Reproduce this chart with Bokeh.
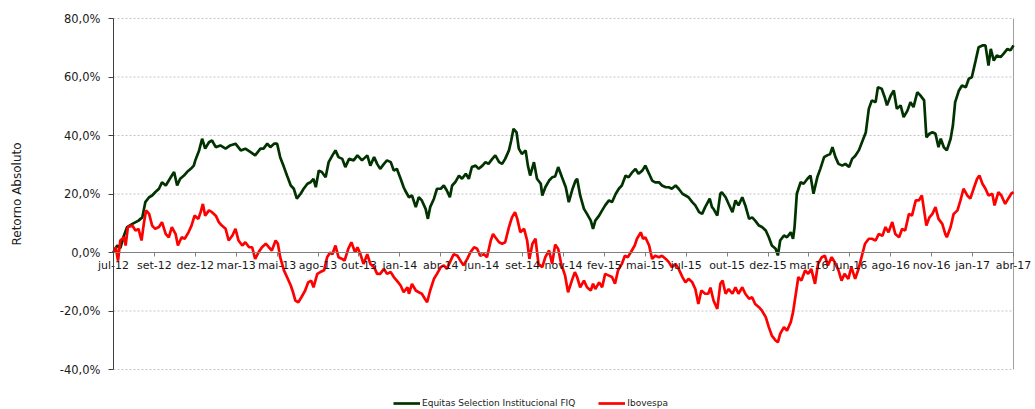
from bokeh.plotting import figure
from bokeh.models import Range1d, FixedTicker, CustomJSTickFormatter, Legend, LegendItem
from bokeh.embed import file_html
from bokeh.resources import INLINE

# ---- data ----
tick_labels = ["jul-12", "set-12", "dez-12", "mar-13", "mai-13", "ago-13", "out-13", "jan-14",
               "abr-14", "jun-14", "set-14", "nov-14", "fev-15", "mai-15", "jul-15", "out-15",
               "dez-15", "mar-16", "jun-16", "ago-16", "nov-16", "jan-17", "abr-17"]
tick_step = 54  # trading days between labels
last_day = tick_step * (len(tick_labels) - 1)

eq_day = [0,5,9,13,18,25,33,38,42,47,51,55,60,64,69,73,77,80,84,88,93,97,102,106,108,113,117,121,126,130,
          135,141,148,154,161,168,174,181,187,194,198,203,207,212,216,220,225,229,234,238,242,247,251,256,260,
          264,267,271,275,280,284,289,293,297,302,306,311,317,322,328,335,339,344,348,352,357,361,366,370,374,
          379,383,385,390,394,399,403,407,412,415,418,423,427,432,436,440,444,447,451,456,460,465,469,473,478,
          482,487,491,495,500,504,509,513,517,522,525,528,532,535,539,544,547,550,555,559,564,566,570,575,579,
          583,587,592,597,601,606,610,612,616,621,625,630,633,636,641,645,649,654,658,663,667,671,676,680,685,
          689,693,698,702,707,711,715,720,724,729,733,737,742,746,751,755,759,764,768,773,777,781,787,790,792,
          797,801,803,808,812,817,821,825,830,834,839,843,847,852,856,861,865,869,874,877,880,885,889,894,897,
          899,902,907,911,916,920,924,929,933,938,942,946,949,953,957,962,966,971,975,979,984,988,993,997,1001,
          1006,1009,1014,1018,1021,1026,1030,1034,1039,1043,1048,1052,1056,1061,1065,1070,1073,1077,1081,1085,
          1089,1092,1096,1100,1105,1108,1111,1116,1120,1125,1129,1133,1138,1142,1147,1151,1155,1158,1162,1166,
          1171,1175,1180,1184,1188]
eq_ret = [0.0,2.4,1.5,5.2,8.7,9.8,10.9,12.0,17.2,18.9,19.5,20.6,21.8,24.0,22.9,24.6,26.3,27.5,22.9,25.2,
          26.3,27.5,28.6,29.7,31.5,34.9,38.9,35.5,37.7,38.3,36.0,36.6,35.5,36.6,37.2,34.9,35.5,34.3,33.2,35.5,
          35.5,37.2,36.0,37.2,37.2,32.6,29.2,26.3,22.9,21.8,18.4,20.1,21.8,23.5,24.0,25.2,22.3,28.0,27.5,25.7,
          30.9,33.2,34.9,32.6,32.0,29.2,32.0,31.5,33.2,31.5,33.2,29.7,32.6,30.3,28.6,30.3,31.5,30.9,28.0,28.6,
          25.2,22.3,21.2,18.9,19.5,15.5,18.9,17.8,14.9,11.5,15.5,18.4,21.8,21.8,22.9,21.2,18.9,22.9,24.0,26.3,
          25.2,26.9,25.2,29.2,29.7,28.6,29.7,30.9,30.3,32.0,33.2,30.9,30.3,32.0,34.9,38.3,42.3,41.1,35.5,33.7,
          34.9,29.7,26.3,30.9,25.2,23.5,19.5,22.3,24.6,25.7,26.0,29.2,25.7,22.3,17.2,21.8,24.6,25.2,19.5,14.9,
          13.2,10.9,8.1,10.9,12.6,14.4,16.1,17.8,17.2,20.1,21.8,22.9,26.3,25.7,27.5,28.6,26.9,28.0,29.7,26.9,
          24.6,24.0,24.0,22.9,22.3,22.3,21.8,22.9,21.8,20.1,19.5,18.9,17.2,16.1,13.8,13.2,15.5,18.4,15.5,14.9,
          12.6,20.1,20.6,18.9,16.6,13.8,17.8,16.1,18.9,16.1,11.5,12.0,10.9,9.2,8.7,7.5,5.2,2.4,1.3,-1.0,
          4.1,5.8,5.2,6.9,4.7,8.7,20.1,24.0,23.5,25.2,26.3,20.1,25.7,28.6,32.6,33.2,33.7,36.0,32.6,30.3,
          29.7,30.3,29.2,32.0,33.0,35.0,37.7,41.0,49.1,52.0,51.4,56.5,56.0,53.1,50.3,53.7,55.4,49.1,50.3,46.3,
          48.5,51.4,49.7,54.8,53.7,52.0,39.4,40.6,41.1,40.6,36.0,38.9,36.0,34.9,38.9,43.4,51.4,55.4,57.1,56.5,
          59.4,59.9,65.6,70.2,70.8,70.8,63.9,69.6,65.6,67.4,66.8,68.0,69.6,69.1,70.8]

ib_day = [0,3,6,9,14,16,19,25,29,33,37,40,43,47,51,55,60,64,69,73,77,82,85,90,94,99,103,107,112,115,
          118,121,126,130,135,139,143,148,152,157,161,165,170,174,179,183,187,192,196,201,205,209,214,217,220,
          225,229,234,237,240,244,248,253,257,261,264,269,273,278,282,286,289,293,297,302,305,310,314,319,322,
          326,330,335,339,344,348,352,357,361,366,370,374,379,383,388,390,394,399,403,407,411,414,418,423,427,
          432,436,440,445,449,454,458,462,467,471,476,480,484,489,493,498,501,504,509,513,517,522,526,530,533,
          537,542,546,549,553,557,561,566,570,575,579,583,587,591,596,600,605,609,612,616,621,625,630,633,636,
          641,645,649,654,658,662,666,671,675,679,684,688,691,696,699,702,707,711,715,720,724,729,733,737,742,
          746,751,755,759,764,768,772,776,781,785,788,792,797,801,804,808,812,817,821,825,830,834,839,843,847,
          852,856,861,865,869,874,877,880,885,889,894,897,900,904,908,913,917,921,926,930,935,939,943,948,952,
          957,961,965,970,974,979,983,987,992,997,1001,1006,1010,1015,1019,1023,1028,1032,1037,1041,1045,1050,
          1054,1059,1063,1067,1070,1073,1077,1081,1085,1089,1094,1098,1100,1105,1109,1114,1118,1122,1127,1131,
          1136,1140,1143,1147,1151,1155,1160,1163,1168,1172,1177,1181,1185,1188]
ib_ret = [0.0,1.8,-2.8,4.1,5.2,2.4,8.7,9.2,7.5,8.1,4.1,9.8,14.4,13.2,9.2,8.1,8.7,10.4,6.3,5.2,
          8.7,6.3,2.4,5.2,4.7,6.9,9.2,12.6,11.5,13.8,16.6,12.6,14.4,13.8,12.6,10.4,9.2,8.1,4.1,5.8,
          8.1,4.1,2.4,3.5,1.8,1.8,-2.2,0.3,1.8,3.0,1.8,0.7,4.1,3.0,-1.6,-6.1,-8.4,-11.3,-13.6,-16.4,
          -17.0,-15.3,-13.0,-10.2,-9.6,-11.9,-7.3,-6.7,-6.1,-1.6,0.0,-0.6,2.4,-1.6,-2.2,-2.8,1.3,3.5,0.0,1.8,
          -0.6,-3.9,-0.6,-3.9,-5.0,-7.3,-7.3,-5.6,-7.3,-6.7,-8.4,-9.6,-11.3,-13.6,-11.9,-14.1,-10.7,-13.0,-13.6,-14.1,
          -15.8,-17.0,-13.0,-9.0,-7.3,-5.0,-4.4,-5.6,-2.8,-0.6,-1.1,-2.8,-4.4,-2.2,0.0,1.8,1.3,-1.1,-0.6,-1.6,
          4.1,6.3,5.2,3.5,3.0,3.5,8.7,12.0,13.8,11.5,6.9,8.1,4.1,-2.2,3.0,4.7,-3.9,-5.0,-1.6,0.7,
          -3.9,2.7,1.2,-3.9,-7.8,-13.6,-9.6,-6.7,-8.4,-11.9,-9.6,-11.9,-13.0,-10.7,-12.5,-10.2,-11.9,-7.3,-7.9,-8.4,
          -10.7,-6.1,-3.9,-1.1,-1.6,0.6,2.4,4.7,6.9,4.7,5.2,2.4,-2.2,-1.1,-1.6,-1.1,-2.2,-3.3,-5.0,-3.9,
          -5.6,-8.4,-10.2,-9.0,-10.2,-12.5,-17.6,-13.0,-14.1,-14.1,-12.0,-16.4,-19.3,-10.7,-9.6,-14.1,-12.5,-14.1,-11.9,-14.1,
          -11.9,-14.1,-15.8,-15.3,-17.6,-18.7,-19.9,-22.1,-25.5,-28.4,-30.1,-30.7,-27.8,-25.5,-26.7,-23.8,-20.4,-15.3,-8.4,-9.6,
          -6.1,-7.3,-5.6,-10.7,-3.9,-1.6,-1.1,-4.4,-1.6,-3.3,-6.1,-9.6,-7.3,-9.0,-5.0,-9.0,-6.0,-2.0,3.0,4.7,
          4.7,4.1,6.3,5.7,8.7,6.9,10.4,6.3,5.2,8.1,7.5,13.2,12.6,17.8,17.8,19.5,14.4,9.2,12.0,13.2,
          15.5,11.5,9.8,6.3,5.2,8.7,13.2,14.4,17.8,21.8,19.5,18.4,22.3,25.2,26.3,23.5,21.8,19.5,20.1,16.1,
          20.6,19.5,16.6,18.4,20.1,20.6]

y_ticks = [-40, -20, 0, 20, 40, 60, 80]

assert len(eq_day) == len(eq_ret), (len(eq_day), len(eq_ret))
assert len(ib_day) == len(ib_ret), (len(ib_day), len(ib_ret))

# ---- layout (pixels) ----
W, H = 1035, 409
PL, PR, PT, PB = 113, 1013, 18, 369   # plot-area box inside the canvas
FONT = "DejaVu Sans"

dx = last_day / (PR - PL)
dy = (y_ticks[-1] - y_ticks[0]) / (PB - PT)
x_range = Range1d(-PL * dx, last_day + (W - PR) * dx)
y_range = Range1d(y_ticks[0] - (H - PB) * dy, y_ticks[-1] + PT * dy)

p = figure(width=W, height=H, output_backend="svg", toolbar_location=None,
           x_range=x_range, y_range=y_range,
           min_border_left=0, min_border_right=0, min_border_top=0, min_border_bottom=0)
p.outline_line_color = None
p.background_fill_color = "white"
p.xgrid.visible = False
p.ygrid.visible = False

# dotted horizontal gridlines across the plot area
n = len(y_ticks)
p.segment(x0=[0] * n, x1=[last_day] * n, y0=y_ticks, y1=y_ticks,
          line_color="#c4c4c4", line_width=1, line_dash="2 2")
# right border of plot area
p.segment(x0=[last_day], x1=[last_day], y0=[y_ticks[0]], y1=[y_ticks[-1]],
          line_color="#a0a0a0", line_width=1)

# y axis at day 0
ya = p.yaxis[0]
ya.fixed_location = 0
ya.bounds = (y_ticks[0], y_ticks[-1])
ya.ticker = FixedTicker(ticks=y_ticks)
ya.formatter = CustomJSTickFormatter(code="return tick.toFixed(1).replace('.', ',') + '%';")
ya.axis_line_color = "#404040"
ya.major_tick_line_color = "#404040"
ya.major_tick_out = 5
ya.major_tick_in = 0
ya.minor_tick_line_color = None
ya.major_label_standoff = 8
ya.major_label_text_font = FONT
ya.major_label_text_font_size = "11.5px"
ya.major_label_text_color = "#1a1a1a"
ya.axis_label = "Retorno Absoluto"
ya.axis_label_text_font = FONT
ya.axis_label_text_font_size = "12px"
ya.axis_label_text_font_style = "normal"
ya.axis_label_text_color = "#1a1a1a"
ya.axis_label_standoff = 33

# x axis at 0 %
xa = p.xaxis[0]
xa.fixed_location = 0
xa.bounds = (0, last_day)
xa.ticker = FixedTicker(ticks=[i * tick_step for i in range(len(tick_labels))])
xa.major_label_overrides = {i * tick_step: lab for i, lab in enumerate(tick_labels)}
xa.axis_line_color = "#808080"
xa.major_tick_line_color = "#808080"
xa.major_tick_out = 4
xa.major_tick_in = 0
xa.minor_tick_line_color = None
xa.major_label_standoff = 2
xa.major_label_text_font = FONT
xa.major_label_text_font_size = "11px"
xa.major_label_text_color = "#1a1a1a"

r_eq = p.line(eq_day, eq_ret, line_color="#003300", line_width=2.7)
r_ib = p.line(ib_day, ib_ret, line_color="#ff0000", line_width=2.7)

legend = Legend(items=[LegendItem(label="Equitas Selection Institucional FIQ", renderers=[r_eq]),
                       LegendItem(label="Ibovespa", renderers=[r_ib])],
                location=(393, 0), orientation="horizontal",
                glyph_width=27, glyph_height=12, label_height=12, label_standoff=2, spacing=23,
                padding=0, margin=0, border_line_color=None, background_fill_alpha=0,
                label_text_font=FONT, label_text_font_size="9px", label_text_color="#1a1a1a")
p.add_layout(legend)

open("out.html", "w").write(file_html(p, INLINE))
